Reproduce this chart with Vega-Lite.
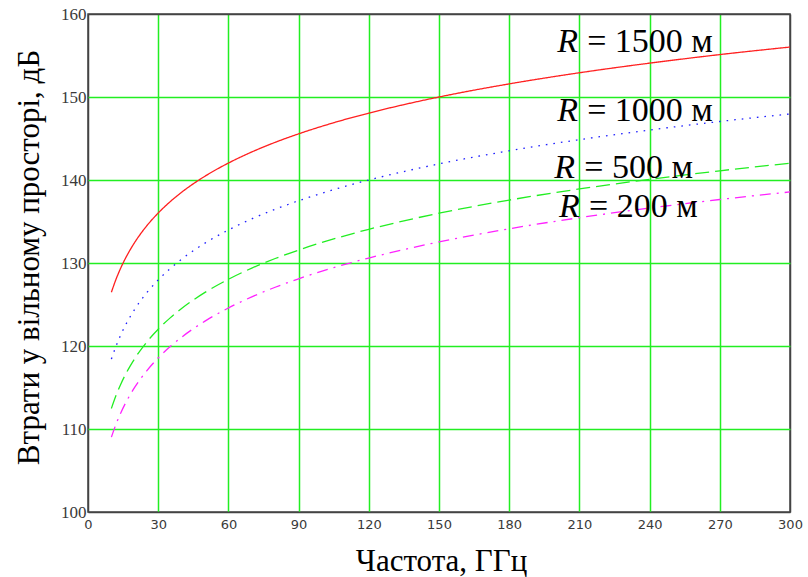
{
  "$schema": "https://vega.github.io/schema/vega-lite/v6.json",
  "width": 702,
  "height": 498,
  "autosize": {"type": "none"},
  "padding": {"left": 88, "top": 14, "right": 18, "bottom": 65},
  "background": "white",
  "config": {
    "view": {"stroke": "#444444", "strokeWidth": 1.5},
    "axis": {"domain": false, "grid": true, "gridWidth": 1.5, "gridOpacity": 1, "ticks": false}
  },
  "datasets": {
    "curves": [
      {"R": "1500", "f": 10, "L": 126.48}, {"R": "1500", "f": 12, "L": 128.06}, {"R": "1500", "f": 14, "L": 129.40}, {"R": "1500", "f": 16, "L": 130.56}, {"R": "1500", "f": 18, "L": 131.58}, {"R": "1500", "f": 20, "L": 132.50}, {"R": "1500", "f": 25, "L": 134.44}, {"R": "1500", "f": 30, "L": 136.02}, {"R": "1500", "f": 35, "L": 137.36}, {"R": "1500", "f": 40, "L": 138.52}, {"R": "1500", "f": 50, "L": 140.46}, {"R": "1500", "f": 60, "L": 142.04}, {"R": "1500", "f": 70, "L": 143.38}, {"R": "1500", "f": 80, "L": 144.54}, {"R": "1500", "f": 90, "L": 145.56}, {"R": "1500", "f": 105, "L": 146.90}, {"R": "1500", "f": 120, "L": 148.06}, {"R": "1500", "f": 135, "L": 149.08}, {"R": "1500", "f": 150, "L": 150.00}, {"R": "1500", "f": 180, "L": 151.58}, {"R": "1500", "f": 210, "L": 152.92}, {"R": "1500", "f": 240, "L": 154.08}, {"R": "1500", "f": 270, "L": 155.11}, {"R": "1500", "f": 300, "L": 156.02},
      {"R": "1000", "f": 10, "L": 118.42}, {"R": "1000", "f": 12, "L": 120.00}, {"R": "1000", "f": 14, "L": 121.34}, {"R": "1000", "f": 16, "L": 122.50}, {"R": "1000", "f": 18, "L": 123.52}, {"R": "1000", "f": 20, "L": 124.44}, {"R": "1000", "f": 25, "L": 126.38}, {"R": "1000", "f": 30, "L": 127.96}, {"R": "1000", "f": 35, "L": 129.30}, {"R": "1000", "f": 40, "L": 130.46}, {"R": "1000", "f": 50, "L": 132.40}, {"R": "1000", "f": 60, "L": 133.98}, {"R": "1000", "f": 70, "L": 135.32}, {"R": "1000", "f": 80, "L": 136.48}, {"R": "1000", "f": 90, "L": 137.50}, {"R": "1000", "f": 105, "L": 138.84}, {"R": "1000", "f": 120, "L": 140.00}, {"R": "1000", "f": 135, "L": 141.02}, {"R": "1000", "f": 150, "L": 141.94}, {"R": "1000", "f": 180, "L": 143.52}, {"R": "1000", "f": 210, "L": 144.86}, {"R": "1000", "f": 240, "L": 146.02}, {"R": "1000", "f": 270, "L": 147.05}, {"R": "1000", "f": 300, "L": 147.96},
      {"R": "500", "f": 10, "L": 112.48}, {"R": "500", "f": 12, "L": 114.06}, {"R": "500", "f": 14, "L": 115.40}, {"R": "500", "f": 16, "L": 116.56}, {"R": "500", "f": 18, "L": 117.58}, {"R": "500", "f": 20, "L": 118.50}, {"R": "500", "f": 25, "L": 120.44}, {"R": "500", "f": 30, "L": 122.02}, {"R": "500", "f": 35, "L": 123.36}, {"R": "500", "f": 40, "L": 124.52}, {"R": "500", "f": 50, "L": 126.46}, {"R": "500", "f": 60, "L": 128.04}, {"R": "500", "f": 70, "L": 129.38}, {"R": "500", "f": 80, "L": 130.54}, {"R": "500", "f": 90, "L": 131.56}, {"R": "500", "f": 105, "L": 132.90}, {"R": "500", "f": 120, "L": 134.06}, {"R": "500", "f": 135, "L": 135.08}, {"R": "500", "f": 150, "L": 136.00}, {"R": "500", "f": 180, "L": 137.58}, {"R": "500", "f": 210, "L": 138.92}, {"R": "500", "f": 240, "L": 140.08}, {"R": "500", "f": 270, "L": 141.11}, {"R": "500", "f": 300, "L": 142.02},
      {"R": "200", "f": 10, "L": 109.02}, {"R": "200", "f": 12, "L": 110.60}, {"R": "200", "f": 14, "L": 111.94}, {"R": "200", "f": 16, "L": 113.10}, {"R": "200", "f": 18, "L": 114.12}, {"R": "200", "f": 20, "L": 115.04}, {"R": "200", "f": 25, "L": 116.98}, {"R": "200", "f": 30, "L": 118.56}, {"R": "200", "f": 35, "L": 119.90}, {"R": "200", "f": 40, "L": 121.06}, {"R": "200", "f": 50, "L": 123.00}, {"R": "200", "f": 60, "L": 124.58}, {"R": "200", "f": 70, "L": 125.92}, {"R": "200", "f": 80, "L": 127.08}, {"R": "200", "f": 90, "L": 128.10}, {"R": "200", "f": 105, "L": 129.44}, {"R": "200", "f": 120, "L": 130.60}, {"R": "200", "f": 135, "L": 131.62}, {"R": "200", "f": 150, "L": 132.54}, {"R": "200", "f": 180, "L": 134.12}, {"R": "200", "f": 210, "L": 135.46}, {"R": "200", "f": 240, "L": 136.62}, {"R": "200", "f": 270, "L": 137.65}, {"R": "200", "f": 300, "L": 138.56}
    ],
    "labels": [
      {"R": "1500", "f": 200.5, "L": 155.4, "t": "= 1500 м"},
      {"R": "1000", "f": 200.5, "L": 147.1, "t": "= 1000 м"},
      {"R": "500", "f": 199.3, "L": 140.3, "t": "= 500 м"},
      {"R": "200", "f": 201.3, "L": 135.6, "t": "= 200 м"}
    ]
  },
  "layer": [
    {
      "data": {"name": "curves"},
      "mark": {"type": "line", "interpolate": "monotone", "strokeWidth": 1.3, "strokeCap": "butt"},
      "encoding": {
        "x": {
          "field": "f", "type": "quantitative",
          "scale": {"domain": [0, 300], "nice": false, "zero": false},
          "axis": {
            "values": [0, 30, 60, 90, 120, 150, 180, 210, 240, 270, 300],
            "gridColor": {"condition": {"test": "datum.value === 0 || datum.value === 300", "value": "#444444"}, "value": "#22ee22"},
            "labelFont": "DejaVu Sans", "labelFontSize": 13, "labelColor": "#3a3a3a",
            "labelPadding": 6, "labelFlush": false,
            "title": "Частота, ГГц", "titleFont": "Liberation Serif", "titleFontSize": 31,
            "titleFontWeight": "normal", "titleColor": "#000000",
            "titleBaseline": "alphabetic", "titleY": 58, "titleX": 353, "titleAlign": "center"
          }
        },
        "y": {
          "field": "L", "type": "quantitative",
          "scale": {"domain": [100, 160], "nice": false, "zero": false},
          "axis": {
            "values": [100, 110, 120, 130, 140, 150, 160],
            "gridColor": {"condition": {"test": "datum.value === 100 || datum.value === 160", "value": "#444444"}, "value": "#22ee22"},
            "labelFont": "Liberation Serif", "labelFontSize": 17, "labelColor": "#3a3a3a",
            "labelPadding": 2, "labelFlush": false,
            "title": "Втрати у вільному просторі, дБ", "titleFont": "Liberation Serif", "titleFontSize": 31,
            "titleFontWeight": "normal", "titleColor": "#000000",
            "titleAngle": 270, "titleBaseline": "alphabetic", "titleX": -50, "titleY": 243, "titleAlign": "center"
          }
        },
        "color": {
          "field": "R", "type": "nominal",
          "scale": {"domain": ["1500", "1000", "500", "200"], "range": ["#ff2020", "#2020ff", "#22ee22", "#ff22ff"]},
          "legend": null
        },
        "strokeDash": {
          "field": "R", "type": "nominal",
          "scale": {"domain": ["1500", "1000", "500", "200"], "range": [[1, 0], [1.6, 6], [14, 6], [11, 6, 2, 6]]},
          "legend": null
        }
      }
    },
    {
      "data": {"name": "labels"},
      "mark": {"type": "text", "text": "R", "font": "Liberation Serif", "fontStyle": "italic", "fontSize": 34, "align": "left", "baseline": "alphabetic", "color": "#000000"},
      "encoding": {
        "x": {"field": "f", "type": "quantitative"},
        "y": {"field": "L", "type": "quantitative"}
      }
    },
    {
      "data": {"name": "labels"},
      "mark": {"type": "text", "font": "Liberation Serif", "fontSize": 34, "align": "left", "baseline": "alphabetic", "dx": 30, "color": "#000000"},
      "encoding": {
        "x": {"field": "f", "type": "quantitative"},
        "y": {"field": "L", "type": "quantitative"},
        "text": {"field": "t", "type": "nominal"}
      }
    }
  ]
}
